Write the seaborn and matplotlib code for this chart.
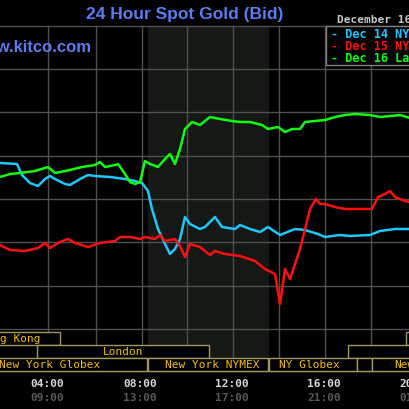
import matplotlib
matplotlib.use("Agg")
import matplotlib.pyplot as plt
from matplotlib.patches import Rectangle
import seaborn as sns
import pandas as pd

# x: time index (chart units, 23.6 units per hour, 04:00 at 47); y: chart price units (inverted)
dec14_x = [0,17,22,30,38,45,50,55,65,70,80,88,95,110,125,135,142,148,152,158,165,170,175,180,185,190,200,205,215,222,235,240,250,260,268,280,295,305,318,325,340,350,370,380,395,410]
dec14_y = [164,165,176,184,187,180,177,180,185,186,180,176,177,178,180,182,184,192,210,230,245,255,250,240,218,225,230,228,218,228,230,226,230,233,228,236,230,231,235,238,236,237,236,232,230,230]
dec15_x = [0,10,25,38,45,50,60,68,75,88,100,115,120,130,140,145,155,160,165,175,180,185,190,200,210,215,225,240,255,265,275,280,285,290,295,300,305,310,316,320,325,335,345,360,372,378,385,390,395,405,410]
dec15_y = [246,251,252,249,244,249,243,240,244,248,244,242,238,238,240,238,240,236,242,240,247,258,245,248,256,252,255,257,262,270,275,305,270,280,265,250,230,210,200,205,205,208,210,210,210,198,195,192,198,202,203]
dec16_x = [0,10,20,35,48,55,70,82,95,100,105,115,118,125,130,135,140,145,150,158,165,170,175,180,185,192,200,210,220,232,240,250,262,268,278,285,292,300,305,315,325,335,345,355,370,380,390,400,410]
dec16_y = [178,175,174,172,168,174,171,168,166,163,168,166,165,175,183,185,183,162,165,168,160,155,165,150,130,123,126,118,120,122,123,123,126,130,128,133,130,130,123,122,121,118,116,115,116,118,117,116,119]
series = ["Dec 14 NY", "Dec 15 NY", "Dec 16 Last"]
colors = ["#1ec8ff", "#ff1010", "#10ff10"]
tick_pos = [47, 140, 232, 324, 416]
tick_top = ["04:00", "08:00", "12:00", "16:00", "20:00"]
tick_bot = ["09:00", "13:00", "17:00", "21:00", "01:00"]

df = pd.concat([
    pd.DataFrame({"t": dec14_x, "v": dec14_y, "s": series[0]}),
    pd.DataFrame({"t": dec15_x, "v": dec15_y, "s": series[1]}),
    pd.DataFrame({"t": dec16_x, "v": dec16_y, "s": series[2]}),
])

fig = plt.figure(figsize=(4.1, 4.1), dpi=100, facecolor="black")
ax = fig.add_axes([0, 0, 1, 1])
ax.set_facecolor("black")

ax.add_patch(Rectangle((148, 27), 120, 345, color="#151815", zorder=0))
for gx in [48, 96, 142, 187, 233, 279, 325, 371]:
    ax.plot([gx, gx], [27, 372], color="#505050", lw=1, zorder=1)
for gy in [27, 70, 113, 157, 200, 243, 287, 330, 372]:
    ax.plot([0, 410], [gy, gy], color="#505050", lw=1, zorder=1)

sns.lineplot(data=df, x="t", y="v", hue="s", palette=colors, lw=1.8,
             legend=False, ax=ax, zorder=3, sort=False)
ax.set_xlim(0, 410); ax.set_ylim(410, 0); ax.axis("off")

mono = "DejaVu Sans Mono"
edge = "#a09860"; txt = "#f0c000"
def box(x0, x1, y0, y1, label=None, tx=None):
    ax.add_patch(Rectangle((x0, y0), x1 - x0, y1 - y0, fill=True, fc="black", ec=edge, lw=1, zorder=4))
    if label:
        ax.text(tx, (y0 + y1) / 2, label, color=txt, fontsize=8, family=mono,
                va="center", ha="left", zorder=5, clip_on=True)
box(-20, 60, 333, 346, "g Kong", 0)
box(406, 430, 333, 346)
box(37, 209, 346, 359, "London", 103)
box(348, 430, 346, 359)
box(-20, 147, 359, 372, "New York Globex", -1)
box(148, 268, 359, 372, "New York NYMEX", 165)
box(269, 357, 359, 372, "NY Globex", 279)
box(357, 372, 359, 372)
box(372, 430, 359, 372, "New", 394)

for p, a, b in zip(tick_pos, tick_top, tick_bot):
    ax.text(p, 384, a, color="#d8d8d8", fontsize=8, family=mono, weight="bold", ha="center", va="center")
    ax.text(p, 398, b, color="#5a5a5a", fontsize=8, family=mono, weight="bold", ha="center", va="center")

ax.text(185, 15, "24 Hour Spot Gold (Bid)", color="#5a7cf0", fontsize=12.5, family="Liberation Sans",
        weight="bold", ha="center", va="center")
ax.text(91, 48, "www.kitco.com", color="#5a7cf0", fontsize=12, family="Liberation Sans",
        weight="bold", ha="right", va="center", zorder=5)
ax.text(337, 20, "December 16", color="#c8c8c8", fontsize=8, family=mono, weight="bold",
        ha="left", va="center")
ax.add_patch(Rectangle((326, 27), 100, 39, fc="black", ec="#808080", lw=1, zorder=4))
for i, (s, c) in enumerate(zip(series, colors)):
    ax.text(331, 34 + 12.5 * i, "- " + s, color=c, fontsize=8.5, family=mono,
            weight="bold", ha="left", va="center", zorder=5)

fig.savefig("out.png", dpi=100, facecolor="black")
